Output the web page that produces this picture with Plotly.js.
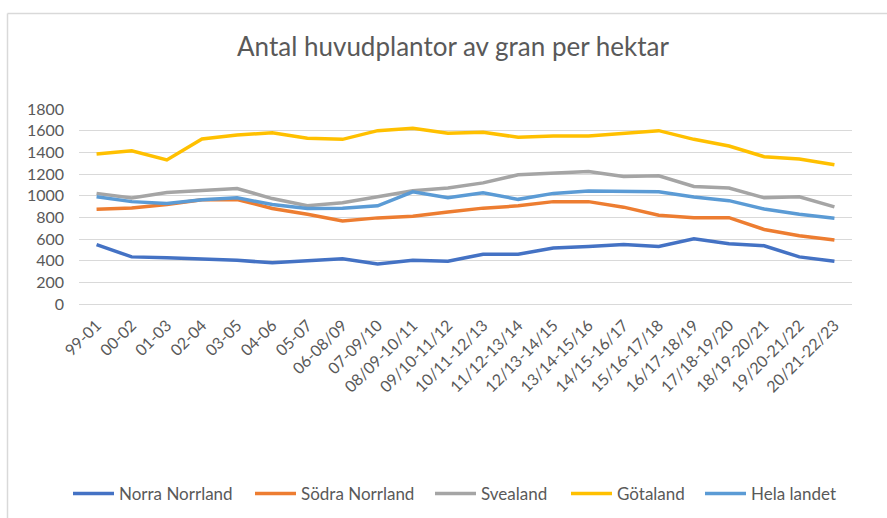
<!DOCTYPE html>
<html>
<head>
<meta charset="utf-8">
<script src="https://cdn.plot.ly/plotly-3.0.1.min.js"></script>
<style>
html,body{margin:0;padding:0;background:#fff;}
#chart{width:887px;height:518px;}
</style>
</head>
<body>
<div id="chart"></div>
<script>
const categories = ["99-01","00-02","01-03","02-04","03-05","04-06","05-07","06-08/09","07-09/10","08/09-10/11","09/10-11/12","10/11-12/13","11/12-13/14","12/13-14/15","13/14-15/16","14/15-16/17","15/16-17/18","16/17-18/19","17/18-19/20","18/19-20/21","19/20-21/22","20/21-22/23"];

const norraNorrland = [548,435,426,413,404,380,398,417,370,404,395,460,460,516,530,550,530,602,556,538,435,395];
const sodraNorrland = [875,886,918,962,965,882,828,767,795,810,850,885,906,945,945,894,820,797,797,688,630,590];
const svealand = [1021,978,1030,1048,1066,973,908,935,990,1045,1070,1118,1193,1205,1224,1178,1184,1085,1070,980,990,897];
const gotaland = [1385,1415,1330,1523,1560,1580,1530,1520,1600,1622,1576,1585,1539,1550,1550,1572,1600,1520,1458,1360,1338,1285];
const helaLandet = [990,945,927,963,980,918,882,885,906,1035,980,1027,966,1021,1042,1036,1036,988,954,877,828,792];

const seriesNames = ["Norra Norrland","Södra Norrland","Svealand","Götaland","Hela landet"];
const seriesColors = ["#4472C4","#ED7D31","#A5A5A5","#FFC000","#5B9BD5"];
const seriesValues = [norraNorrland, sodraNorrland, svealand, gotaland, helaLandet];

const yTickVals = [0,200,400,600,800,1000,1200,1400,1600,1800];

const FONT = "Lato, 'Open Sans', sans-serif";
const TXT = "#595959";
const W = 887, H = 518;

// legend entry start positions (px) measured on the reference
const legendStarts = [75, 257, 437, 573, 707];
const legendKeys = ["legend","legend2","legend3","legend4","legend5"];

const traces = seriesValues.map((vals, i) => ({
  type: "scatter",
  mode: "lines",
  name: seriesNames[i],
  x: categories,
  y: vals,
  legend: legendKeys[i],
  line: {color: seriesColors[i], width: 3.5, shape: "linear"},
  hoverinfo: "x+y+name"
}));

const layout = {
  width: W,
  height: H,
  paper_bgcolor: "#ffffff",
  plot_bgcolor: "#ffffff",
  margin: {l: 79, r: 35, t: 109, b: 214, pad: 0},
  font: {family: FONT, color: TXT, size: 16},
  title: {
    text: "Antal huvudplantor av gran per hektar",
    font: {family: FONT, size: 26, color: TXT},
    xref: "container", yref: "container",
    x: 453/W, y: 1 - 47/H,
    xanchor: "center", yanchor: "middle"
  },
  xaxis: {
    type: "category",
    range: [-0.5, categories.length - 0.5],
    showgrid: false,
    showline: false,
    zeroline: false,
    ticks: "",
    tickangle: -45,
    tickfont: {family: FONT, size: 16, color: TXT},
    ticklabelstandoff: 8,
    fixedrange: true
  },
  yaxis: {
    range: [0, 1800],
    tickvals: yTickVals,
    showgrid: true,
    gridcolor: "#D9D9D9",
    gridwidth: 1,
    zeroline: true,
    zerolinecolor: "#D9D9D9",
    zerolinewidth: 1,
    showline: false,
    ticks: "",
    tickfont: {family: FONT, size: 16, color: TXT},
    ticklabelstandoff: 14,
    fixedrange: true
  },
  showlegend: true,
  shapes: [
    {type: "line", xref: "paper", yref: "paper",
     x0: (7.5-79)/773, x1: (900-79)/773, y0: (304-13.5)/195, y1: (304-13.5)/195,
     line: {color: "#D9D9D9", width: 1.5}},
    {type: "line", xref: "paper", yref: "paper",
     x0: (7.5-79)/773, x1: (7.5-79)/773, y0: (304-13.5)/195, y1: (304-530)/195,
     line: {color: "#D9D9D9", width: 1.5}}
  ]
};

legendKeys.forEach((k, i) => {
  layout[k] = {
    orientation: "h",
    xref: "container", yref: "container",
    x: (legendStarts[i] - 7) / W, y: 1 - 494 / H,
    xanchor: "left", yanchor: "middle",
    font: {family: FONT, size: 17, color: TXT},
    itemwidth: 41,
    bgcolor: "rgba(0,0,0,0)"
  };
});

Plotly.newPlot("chart", traces, layout, {displayModeBar: false, staticPlot: true});
</script>
</body>
</html>
